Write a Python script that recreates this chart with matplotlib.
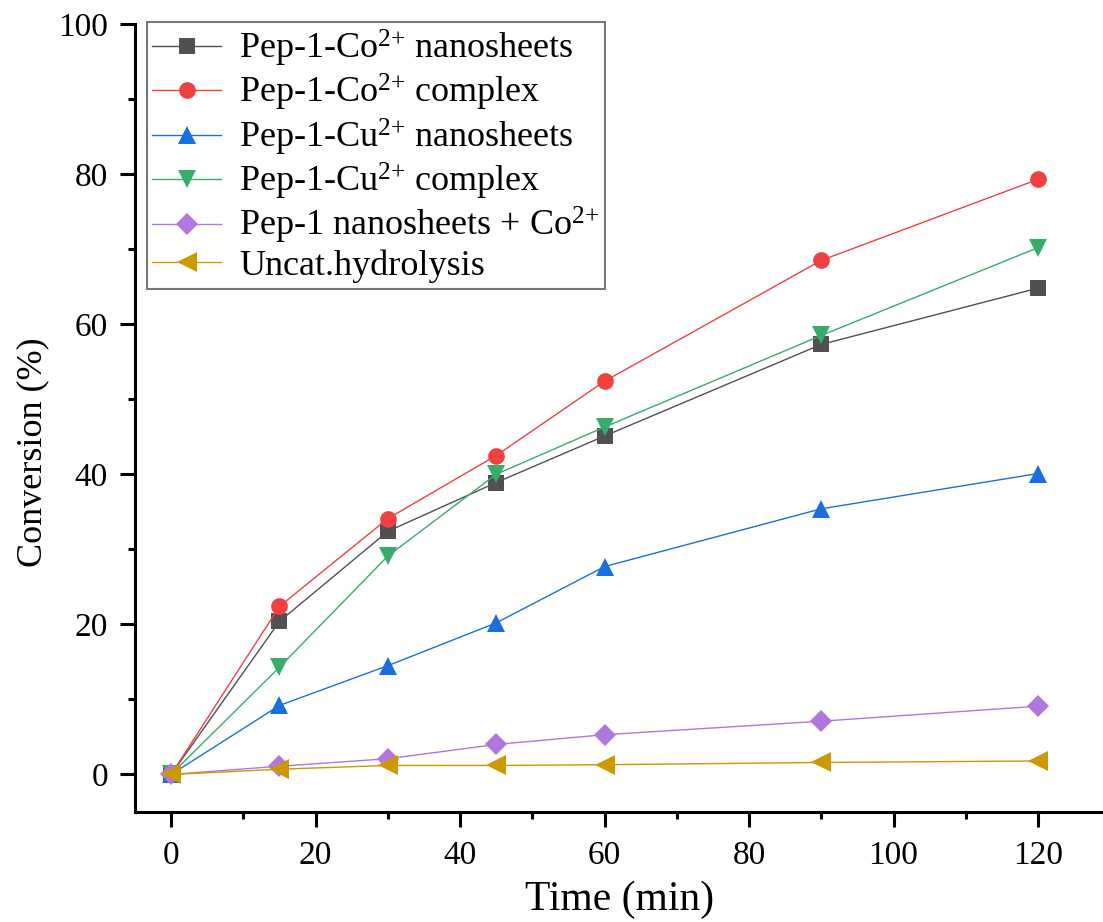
import matplotlib
matplotlib.use("Agg")
import matplotlib.pyplot as plt
from matplotlib.ticker import MultipleLocator

plt.rcParams['font.family'] = ['Liberation Serif', 'DejaVu Serif']
plt.rcParams['mathtext.fontset'] = 'custom'
plt.rcParams['mathtext.rm'] = 'Liberation Serif'
plt.rcParams['mathtext.it'] = 'Liberation Serif:italic'

time_min = [0, 15, 30, 45, 60, 90, 120]
co_nanosheets = [0, 20.4, 32.4, 38.9, 45.1, 57.3, 64.8]
co_complex = [0, 22.4, 34.1, 42.5, 52.4, 68.5, 79.3]
cu_nanosheets = [0, 9.2, 14.5, 20.2, 27.7, 35.4, 40.1]
cu_complex = [0, 14.3, 29.1, 40.0, 46.3, 58.5, 70.2]
pep_plus_co = [0, 1.1, 2.1, 4.0, 5.3, 7.1, 9.1]
uncat = [0, 0.7, 1.2, 1.2, 1.3, 1.6, 1.8]

labels = [r'Pep-1-Co$^{2{+}}$ nanosheets',
          r'Pep-1-Co$^{2{+}}$ complex',
          r'Pep-1-Cu$^{2{+}}$ nanosheets',
          r'Pep-1-Cu$^{2{+}}$ complex',
          r'Pep-1 nanosheets + Co$^{2{+}}$',
          'Uncat.hydrolysis']
series = [co_nanosheets, co_complex, cu_nanosheets, cu_complex, pep_plus_co, uncat]
colors = ['#515151', '#F14040', '#1A6FDF', '#37AD6B', '#B177DE', '#CC9900']
markers = ['s', 'o', '^', 'v', 'D', '<']
msizes = [11, 12, 13, 13, 11, 14]

fig = plt.figure(figsize=(11.03, 9.22), dpi=100)
ax = fig.add_axes([135 / 1103, 1 - 812 / 922, 1 - 135 / 1103, (812 - 24) / 922])

for ys, lab, c, m, ms in zip(series, labels, colors, markers, msizes):
    ax.plot(time_min, ys, color=c, marker=m, markersize=ms, lw=1.0,
            markeredgewidth=0, label=lab)

ax.set_xlim(-5, 129)
ax.set_ylim(-5, 100)
ax.xaxis.set_major_locator(MultipleLocator(20))
ax.xaxis.set_minor_locator(MultipleLocator(10))
ax.yaxis.set_major_locator(MultipleLocator(20))
ax.yaxis.set_minor_locator(MultipleLocator(10))

for s in ['top', 'right']:
    ax.spines[s].set_visible(False)
for s in ['left', 'bottom']:
    ax.spines[s].set_linewidth(2.2)

ax.tick_params(which='major', direction='out', length=10.5, width=2.2, labelsize=24)
ax.tick_params(axis='y', which='major', pad=9)
ax.tick_params(axis='x', which='major', pad=10)
ax.tick_params(which='minor', direction='out', length=5, width=2.2)

ax.set_xlabel('Time (min)', fontsize=30)
ax.xaxis.set_label_coords(0.501, -0.087)
ax.set_ylabel('Conversion (%)', fontsize=26)
ax.yaxis.set_label_coords(-0.088, 0.456)

leg = ax.legend(loc='upper left', bbox_to_anchor=(12 / 968, 1.002), fontsize=26,
                frameon=True, fancybox=False, edgecolor='#555555',
                handlelength=1.9, handletextpad=0.5, labelspacing=0.09,
                borderpad=0.15, borderaxespad=0)
leg.get_frame().set_linewidth(1.5)

fig.savefig('out.png', dpi=100)
